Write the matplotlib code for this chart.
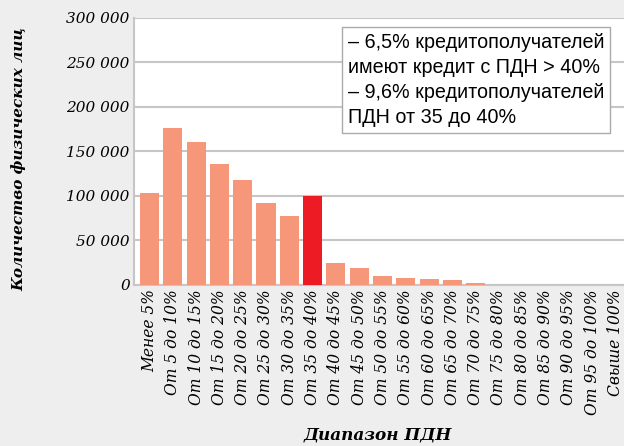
import matplotlib
matplotlib.use("Agg")
from matplotlib import pyplot as plt
from matplotlib.ticker import FuncFormatter

categories = ["Менее 5%", "От 5 до 10%", "От 10 до 15%", "От 15 до 20%", "От 20 до 25%",
              "От 25 до 30%", "От 30 до 35%", "От 35 до 40%", "От 40 до 45%", "От 45 до 50%",
              "От 50 до 55%", "От 55 до 60%", "От 60 до 65%", "От 65 до 70%", "От 70 до 75%",
              "От 75 до 80%", "От 80 до 85%", "От 85 до 90%", "От 90 до 95%", "От 95 до 100%",
              "Свыше 100%"]
values = [103000, 176500, 160500, 136000, 118000, 92500, 77500, 100000, 25000, 19000,
          10500, 7900, 6700, 5600, 2800, 300, 200, 150, 100, 100, 150]
highlight = "От 35 до 40%"
yticks = [0, 50000, 100000, 150000, 200000, 250000, 300000]
note = ("– 6,5% кредитополучателей\n"
        "имеют кредит с ПДН > 40%\n"
        "– 9,6% кредитополучателей\n"
        "ПДН от 35 до 40%")

plt.rcParams["font.family"] = "DejaVu Serif"
plt.rcParams["font.style"] = "italic"

bg = "#eeeeee"
salmon = "#f7977a"
red = "#ed1c24"
grid_col = "#c6c6c6"

fig = plt.figure(figsize=(6.24, 4.46), dpi=100, facecolor=bg)
ax = fig.add_axes([0.2147, 0.361, 0.7965, 0.5987])

x = list(range(len(categories)))
colors = [red if c == highlight else salmon for c in categories]
ax.bar(x, values, width=0.82, color=colors, zorder=3)

ax.set_xlim(-0.665, len(categories) - 1 + 0.665)
ax.set_ylim(0, 300000)
ax.set_yticks(yticks)
ax.yaxis.set_major_formatter(FuncFormatter(lambda v, p: f"{int(v):,}".replace(",", " ")))
ax.grid(axis="y", color=grid_col, linewidth=1.5, zorder=0)

ax.set_xticks(x)
ax.set_xticklabels(categories, rotation=90, fontsize=11.2)
ax.tick_params(axis="y", labelsize=11)
ax.tick_params(length=0, pad=3)

for s in ["top", "right"]:
    ax.spines[s].set_visible(False)
for s in ["left", "bottom"]:
    ax.spines[s].set_color(grid_col)
    ax.spines[s].set_linewidth(1.5)

ax.set_ylabel("Количество физических лиц", fontweight="bold", fontsize=11)
ax.yaxis.set_label_coords(-0.215, 0.47)
ax.set_xlabel("Диапазон ПДН", fontweight="bold", fontsize=12.2)
ax.xaxis.set_label_coords(0.49, -0.53)

ax.text(0.43, 0.944, note, transform=ax.transAxes, ha="left", va="top",
        fontfamily="Liberation Sans", fontstyle="normal", fontsize=14.2,
        linespacing=1.4, zorder=5,
        bbox=dict(boxstyle="square,pad=0.3", facecolor="white", edgecolor="#aaaaaa", linewidth=1))

fig.savefig("out.png", dpi=100, facecolor=bg)
